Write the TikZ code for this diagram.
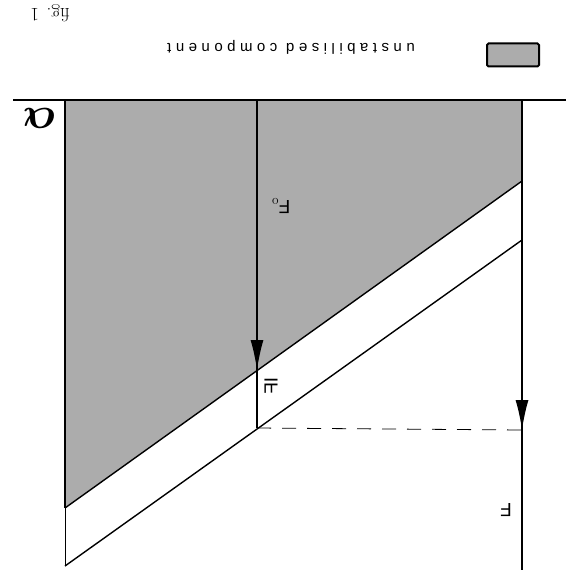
\documentclass[tikz,border=0pt]{standalone}
\usepackage{fontspec}
\usetikzlibrary{arrows.meta}
\newfontfamily\legendfont[LetterSpace=30]{Liberation Sans}
\newfontfamily\labfont{Liberation Sans}
\definecolor{keyfill}{RGB}{172,172,172}
\tikzset{
  mainline/.style={line width=1.4pt,black},
  thinline/.style={line width=0.8pt,black},
  tip/.style={-{Latex[length=30pt,width=13pt]},line width=1.4pt},
  flip/.style={rotate=180,inner sep=0pt},
  labtext/.style={font=\labfont\fontsize{19}{22}\selectfont},
}
\begin{document}
\begin{tikzpicture}[x=1pt,y=-1pt]
\useasboundingbox (0,0) rectangle (566,575);
% key points
\coordinate (tl) at (65,100);
\coordinate (tr) at (522,100);
\coordinate (ur) at (522,181);
\coordinate (ul) at (65,508);
\coordinate (lr) at (522,240);
\coordinate (ll) at (65,566);
\coordinate (mtop) at (257,100);
\coordinate (mtip) at (257,370);
\coordinate (mbot) at (257,428);
\coordinate (ftip) at (522,430);
\coordinate (fbot) at (522,570);
\coordinate (hl) at (13,100);
\coordinate (hr) at (566,100);
% shaded region
\fill[keyfill] (tl) -- (tr) -- (ur) -- (ul) -- cycle;
\draw[mainline] (tl) -- (ul);
\draw[mainline] (ul) -- (ur);
\draw[thinline] (ul) -- (ll);
\draw[mainline] (ll) -- (lr);
\draw[mainline] (hl) -- (hr);
% vertical force lines
\draw[mainline] (mtop) -- (mbot);
\draw[tip] (257,320) -- (mtip);
\draw[mainline] (tr) -- (fbot);
\draw[tip] (522,380) -- (ftip);
\draw[thinline,dash pattern=on 14pt off 11pt] (mbot) -- (ftip);
% labels
\node[flip,labtext] (f0) at (281,206) {F$_{\mathrm{o}}$};
\node[inner sep=0pt,labtext] (df) at (271,386) {\reflectbox{\rotatebox{-90}{IF}}};
\node[flip,labtext] (f) at (506,510) {F};
\node[flip] (alpha) at (39,118) {\scalebox{1.8}{\fontsize{24}{28}\selectfont\boldmath$\alpha$}};
% legend
\node[draw,line width=2pt,fill=keyfill,rounded corners=1.5pt,minimum width=52pt,minimum height=23pt,inner sep=0pt] (key) at (513,55) {};
\node[flip,font=\legendfont\fontsize{15}{17}\selectfont] (keytext) at (291,47) {unstabilised component};
\node[flip,font=\fontsize{19}{22}\selectfont] (fig) at (50,13) {fig. 1};
\end{tikzpicture}
\end{document}
